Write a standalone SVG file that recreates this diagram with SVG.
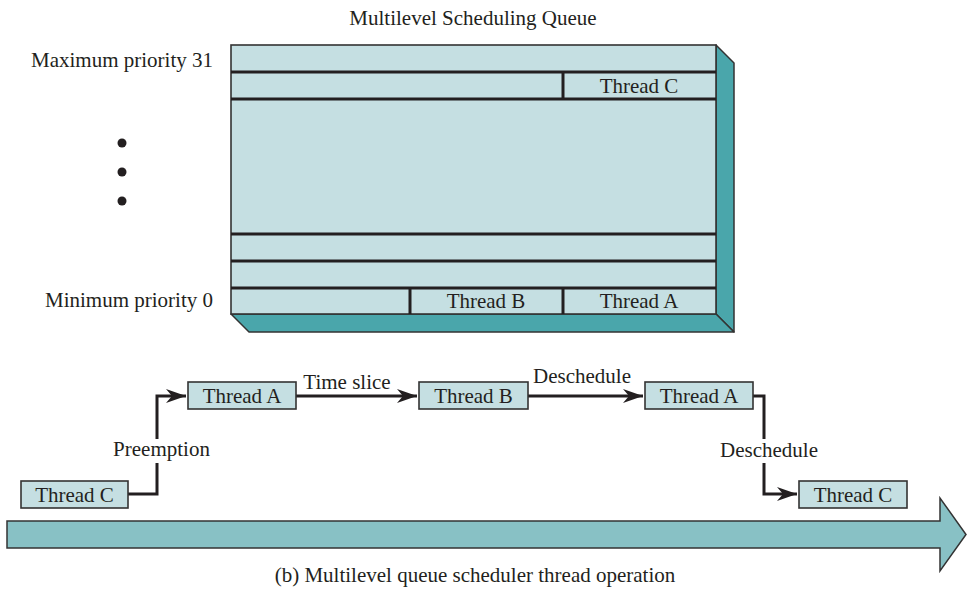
<svg xmlns="http://www.w3.org/2000/svg" width="968" height="593" viewBox="0 0 968 593">
<style>
text{font-family:"Liberation Serif","Times New Roman",serif;font-size:21px;fill:#231f20}
.c{text-anchor:middle}
.r{text-anchor:end}
.box{fill:#c5dfe2;stroke:#333;stroke-width:1.6}
.teal{fill:#4aa6ab;stroke:#333;stroke-width:1.5;stroke-linejoin:round}
.sep{stroke:#231f20;stroke-width:3;fill:none}
.conn{stroke:#231f20;stroke-width:3;fill:none}
</style>
<defs>
<marker id="ah" markerUnits="userSpaceOnUse" markerWidth="22" markerHeight="16" viewBox="-20 -8 22 16" refX="0" refY="0" orient="auto">
<path d="M0,0 L-20,-7 L-14,0 L-20,7 Z" fill="#231f20"/>
</marker>
</defs>

<text class="c" x="473" y="25">Multilevel Scheduling Queue</text>

<g id="queue">
<polygon class="teal" points="716,45 734,63 734,332 716,314"/>
<polygon class="teal" points="231,314 716,314 734,332 249,332"/>
<rect class="box" x="231" y="45" width="485" height="269"/>
<line class="sep" x1="231" y1="72" x2="716" y2="72"/>
<line class="sep" x1="231" y1="99" x2="716" y2="99"/>
<line class="sep" x1="231" y1="234" x2="716" y2="234"/>
<line class="sep" x1="231" y1="261" x2="716" y2="261"/>
<line class="sep" x1="231" y1="288" x2="716" y2="288"/>
<line class="sep" x1="563" y1="72" x2="563" y2="99"/>
<line class="sep" x1="410" y1="288" x2="410" y2="314"/>
<line class="sep" x1="563" y1="288" x2="563" y2="314"/>
<text class="c" x="639" y="93">Thread C</text>
<text class="c" x="486" y="308">Thread B</text>
<text class="c" x="639" y="308">Thread A</text>
</g>

<text class="r" x="213" y="67">Maximum priority 31</text>
<text class="r" x="213" y="307">Minimum priority 0</text>
<g id="dots" fill="#231f20">
<circle cx="122" cy="143" r="4.5"/>
<circle cx="122" cy="172" r="4.5"/>
<circle cx="122" cy="201" r="4.5"/>
</g>

<g id="timeline">
<polygon points="7,521 940,521 940,498 966,534.5 940,571 940,548 7,548" fill="#88c1c5" stroke="#333" stroke-width="1.5" stroke-linejoin="miter"/>
</g>

<g id="connectors">
<polyline class="conn" points="128,494 157,494 157,396 186,396" marker-end="url(#ah)"/>
<line class="conn" x1="296" y1="396" x2="417" y2="396" marker-end="url(#ah)"/>
<line class="conn" x1="528" y1="396" x2="643" y2="396" marker-end="url(#ah)"/>
<polyline class="conn" points="753,396 764,396 764,494 797,494" marker-end="url(#ah)"/>
<rect x="110" y="439" width="104" height="24" fill="#fff"/>
<rect x="718" y="439" width="102" height="24" fill="#fff"/>
<text class="c" x="161.5" y="456">Preemption</text>
<text class="c" x="347" y="389">Time slice</text>
<text class="c" x="582" y="383">Deschedule</text>
<text class="c" x="769" y="457">Deschedule</text>
</g>

<g id="n-threadC1"><rect class="box" x="21" y="481" width="107" height="27"/><text class="c" x="74.5" y="502">Thread C</text></g>
<g id="n-threadA1"><rect class="box" x="188" y="382" width="108" height="27"/><text class="c" x="242" y="403">Thread A</text></g>
<g id="n-threadB"><rect class="box" x="419" y="382" width="109" height="27"/><text class="c" x="473.5" y="403">Thread B</text></g>
<g id="n-threadA2"><rect class="box" x="645" y="382" width="108" height="27"/><text class="c" x="699" y="403">Thread A</text></g>
<g id="n-threadC2"><rect class="box" x="799" y="481" width="108" height="27"/><text class="c" x="853" y="502">Thread C</text></g>

<text class="c" x="475" y="582">(b) Multilevel queue scheduler thread operation</text>
</svg>
